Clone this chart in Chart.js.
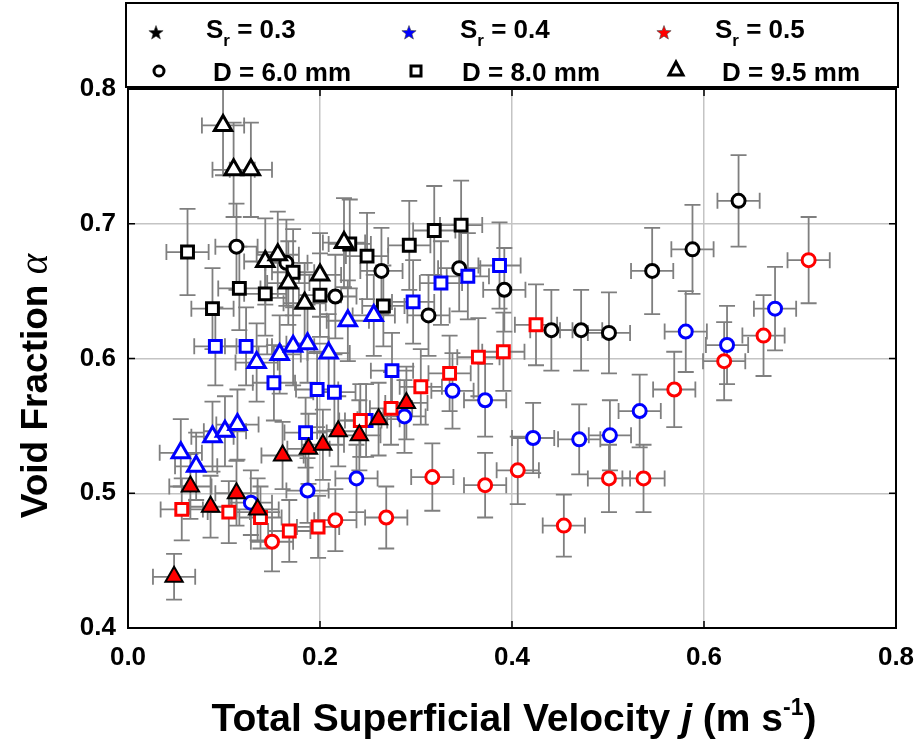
<!DOCTYPE html>
<html lang="en">
<head>
<meta charset="UTF-8">
<title>Void Fraction vs Total Superficial Velocity</title>
<script src="https://cdn.jsdelivr.net/npm/chart.js"></script>
<style>
  body { margin: 0; background: #ffffff; }
  .wrap { width: 918px; height: 747px; }
</style>
</head>
<body>
<div class="wrap"><canvas id="voidChart" width="918" height="747"></canvas></div>
<script>
// each point: [j (m/s), void fraction, error in void fraction]
const sr03_d60 = [[0.113,0.683,0.032],[0.165,0.671,0.032],[0.216,0.646,0.031],[0.264,0.665,0.032],[0.313,0.632,0.030],[0.345,0.667,0.032],[0.392,0.651,0.031],[0.441,0.621,0.030],[0.472,0.621,0.030],[0.501,0.619,0.030],[0.546,0.665,0.032],[0.588,0.681,0.033],[0.636,0.717,0.034]];
const sr03_d80 = [[0.062,0.679,0.032],[0.088,0.637,0.030],[0.116,0.652,0.031],[0.143,0.648,0.031],[0.172,0.664,0.032],[0.200,0.647,0.031],[0.231,0.685,0.033],[0.249,0.676,0.032],[0.266,0.639,0.030],[0.293,0.684,0.033],[0.319,0.695,0.033],[0.347,0.699,0.033]];
const sr03_d95 = [[0.099,0.773,0.037],[0.110,0.740,0.035],[0.128,0.740,0.035],[0.143,0.672,0.032],[0.156,0.677,0.032],[0.167,0.656,0.031],[0.184,0.641,0.030],[0.200,0.662,0.031],[0.225,0.686,0.033]];
const sr04_d60 = [[0.128,0.493,0.024],[0.187,0.502,0.024],[0.238,0.511,0.025],[0.288,0.557,0.027],[0.338,0.576,0.028],[0.372,0.569,0.027],[0.422,0.541,0.026],[0.470,0.540,0.026],[0.502,0.543,0.026],[0.533,0.561,0.027],[0.581,0.620,0.030],[0.624,0.610,0.029],[0.674,0.637,0.031]];
const sr04_d80 = [[0.091,0.609,0.029],[0.123,0.609,0.029],[0.152,0.582,0.028],[0.197,0.577,0.028],[0.215,0.575,0.028],[0.185,0.545,0.026],[0.248,0.554,0.027],[0.275,0.591,0.028],[0.297,0.642,0.031],[0.326,0.656,0.031],[0.354,0.661,0.032],[0.387,0.669,0.032]];
const sr04_d95 = [[0.055,0.530,0.025],[0.071,0.520,0.025],[0.088,0.542,0.026],[0.101,0.546,0.026],[0.114,0.551,0.026],[0.134,0.597,0.029],[0.158,0.603,0.029],[0.172,0.609,0.029],[0.187,0.611,0.029],[0.209,0.604,0.029],[0.229,0.628,0.030],[0.256,0.632,0.030]];
const sr05_d60 = [[0.150,0.464,0.022],[0.216,0.480,0.023],[0.269,0.482,0.023],[0.317,0.512,0.025],[0.372,0.506,0.024],[0.406,0.517,0.025],[0.454,0.476,0.023],[0.501,0.511,0.025],[0.537,0.511,0.025],[0.569,0.577,0.028],[0.621,0.598,0.029],[0.662,0.617,0.030],[0.709,0.673,0.032]];
const sr05_d80 = [[0.056,0.488,0.023],[0.105,0.486,0.023],[0.138,0.482,0.023],[0.168,0.472,0.023],[0.198,0.475,0.023],[0.242,0.554,0.027],[0.274,0.563,0.027],[0.305,0.579,0.028],[0.335,0.589,0.028],[0.365,0.601,0.029],[0.391,0.605,0.029],[0.425,0.625,0.030]];
const sr05_d95 = [[0.048,0.438,0.017],[0.065,0.505,0.024],[0.086,0.490,0.023],[0.113,0.500,0.024],[0.135,0.488,0.023],[0.161,0.528,0.025],[0.188,0.533,0.026],[0.203,0.536,0.026],[0.219,0.546,0.026],[0.241,0.543,0.026],[0.261,0.555,0.027],[0.290,0.567,0.027]];

const J_ERR = 0.022; // horizontal error, m/s

const srValues = ['0.3', '0.4', '0.5'];
const diameters = ['6.0', '8.0', '9.5'];
const xTicks = [0.0, 0.2, 0.4, 0.6, 0.8];
const yTicks = [0.4, 0.5, 0.6, 0.7, 0.8];

const srColors = ['#000000', '#0000ff', '#ff0000'];
const shapes = ['circle', 'rect', 'triangle'];
const radii = { circle: 6.5, rect: 8.4, triangle: 10 };
const FONT = "'Liberation Sans', Arial, sans-serif";

// chart.js paints dataset 0 on top, so red goes first
const groups = [
    [2, 2, sr05_d95], [2, 1, sr05_d80], [2, 0, sr05_d60],
    [1, 2, sr04_d95], [1, 1, sr04_d80], [1, 0, sr04_d60],
    [0, 2, sr03_d95], [0, 1, sr03_d80], [0, 0, sr03_d60]
];

const datasets = groups.map(([s, d, pts]) => {
    const shape = shapes[d];
    const filledTri = s === 2 && shape === 'triangle';
    return {
        label: 'Sr = ' + srValues[s] + ', D = ' + diameters[d] + ' mm',
        data: pts.map(p => ({ x: p[0], y: p[1], e: p[2] })),
        pointStyle: shape,
        pointRadius: radii[shape],
        pointHoverRadius: radii[shape],
        pointBorderWidth: filledTri ? 2 : 3,
        pointBorderColor: filledTri ? '#000000' : srColors[s],
        pointBackgroundColor: filledTri ? '#ff0000' : '#ffffff',
        showLine: false
    };
});

const errorBars = {
    id: 'errorBars',
    beforeDatasetsDraw(chart) {
        const { ctx, chartArea: a, scales: { x, y } } = chart;
        const cap = 8;
        ctx.save();
        ctx.beginPath();
        ctx.rect(a.left, a.top, a.right - a.left, a.bottom - a.top);
        ctx.clip();
        ctx.strokeStyle = '#7f7f7f';
        ctx.lineWidth = 1.8;
        chart.data.datasets.forEach(ds => {
            ds.data.forEach(p => {
                const cx = x.getPixelForValue(p.x), cy = y.getPixelForValue(p.y);
                const x0 = x.getPixelForValue(p.x - J_ERR), x1 = x.getPixelForValue(p.x + J_ERR);
                const y0 = y.getPixelForValue(p.y - p.e), y1 = y.getPixelForValue(p.y + p.e);
                ctx.beginPath();
                ctx.moveTo(x0, cy); ctx.lineTo(x1, cy);
                ctx.moveTo(x0, cy - cap); ctx.lineTo(x0, cy + cap);
                ctx.moveTo(x1, cy - cap); ctx.lineTo(x1, cy + cap);
                ctx.moveTo(cx, y0); ctx.lineTo(cx, y1);
                ctx.moveTo(cx - cap, y0); ctx.lineTo(cx + cap, y0);
                ctx.moveTo(cx - cap, y1); ctx.lineTo(cx + cap, y1);
                ctx.stroke();
            });
        });
        ctx.restore();
    }
};

function drawStar(ctx, cx, cy, r, color) {
    ctx.beginPath();
    for (let i = 0; i < 10; i++) {
        const rr = i % 2 === 0 ? r : r * 0.42;
        const ang = -Math.PI / 2 + i * Math.PI / 5;
        ctx.lineTo(cx + rr * Math.cos(ang), cy + rr * Math.sin(ang));
    }
    ctx.closePath();
    ctx.fillStyle = color;
    ctx.fill();
    ctx.strokeStyle = '#444';
    ctx.lineWidth = 0.6;
    ctx.stroke();
}

// draws a run of text pieces: [text, font, yShift]
function drawRuns(ctx, runs, x, y) {
    runs.forEach(([t, f, dy]) => {
        ctx.font = f;
        ctx.fillText(t, x, y + (dy || 0));
        x += ctx.measureText(t).width;
    });
}
function runsWidth(ctx, runs) {
    return runs.reduce((w, [t, f]) => { ctx.font = f; return w + ctx.measureText(t).width; }, 0);
}

const decorations = {
    id: 'decorations',
    afterDraw(chart) {
        const { ctx, chartArea: a, scales: { x, y } } = chart;
        ctx.save();

        // frame + inward ticks
        ctx.strokeStyle = '#000';
        ctx.lineWidth = 2;
        ctx.strokeRect(a.left, a.top, a.right - a.left, a.bottom - a.top);
        ctx.lineWidth = 1.5;
        ctx.beginPath();
        xTicks.forEach(v => {
            const px = x.getPixelForValue(v);
            ctx.moveTo(px, a.bottom); ctx.lineTo(px, a.bottom - 7);
            ctx.moveTo(px, a.top); ctx.lineTo(px, a.top + 7);
        });
        yTicks.forEach(v => {
            const py = y.getPixelForValue(v);
            ctx.moveTo(a.left, py); ctx.lineTo(a.left + 7, py);
            ctx.moveTo(a.right, py); ctx.lineTo(a.right - 7, py);
        });
        ctx.stroke();

        // legend box
        ctx.lineWidth = 2;
        ctx.strokeRect(126, 3, 772, 84);
        ctx.fillStyle = '#000';
        ctx.textBaseline = 'alphabetic';
        ctx.textAlign = 'left';
        ctx.wordSpacing = '6px';
        const big = 'bold 26px ' + FONT, small = 'bold 17px ' + FONT;
        const starX = [156, 409, 664], srTextX = [206, 460, 715];
        srValues.forEach((v, i) => {
            drawStar(ctx, starX[i], 33, 7.5, srColors[i]);
            ctx.fillStyle = '#000';
            drawRuns(ctx, [['S', big], ['r', small, 8], [' = ' + v, big]], srTextX[i], 38);
        });
        const markX = [159, 416, 676], dTextX = [213, 462, 722];
        diameters.forEach((v, i) => {
            ctx.strokeStyle = '#000';
            ctx.lineWidth = 3;
            ctx.beginPath();
            if (i === 0) ctx.arc(markX[i], 71, 5, 0, Math.PI * 2);
            else if (i === 1) ctx.rect(markX[i] - 5, 66, 10, 10);
            else { ctx.moveTo(markX[i], 62); ctx.lineTo(markX[i] + 7, 75); ctx.lineTo(markX[i] - 7, 75); ctx.closePath(); }
            ctx.stroke();
            drawRuns(ctx, [['D = ' + v + ' mm', big]], dTextX[i], 81);
        });
        ctx.wordSpacing = '0px';

        // x axis title
        const tFont = 'bold 39px ' + FONT;
        const xRuns = [['Total Superficial Velocity ', tFont], ['j', 'bold italic 39px ' + FONT],
            [' (m s', tFont], ['-1', 'bold 23px ' + FONT, -16], [')', tFont]];
        const xw = runsWidth(ctx, xRuns);
        drawRuns(ctx, xRuns, 514 - xw / 2, 731);

        // y axis title
        const yFont = 'bold 37px ' + FONT;
        const yRuns = [['Void Fraction ', yFont], ['\u03B1', 'italic 39px "Liberation Serif", serif']];
        const yw = runsWidth(ctx, yRuns);
        ctx.translate(47, 386);
        ctx.rotate(-Math.PI / 2);
        drawRuns(ctx, yRuns, -yw / 2, 0);
        ctx.restore();
    }
};

new Chart(document.getElementById('voidChart'), {
    type: 'scatter',
    data: { datasets },
    options: {
        responsive: false,
        animation: false,
        layout: { padding: { top: 89, right: 22, left: 0, bottom: 0 } },
        plugins: { legend: { display: false }, tooltip: { enabled: false } },
        scales: {
            x: {
                type: 'linear', min: 0, max: 0.8,
                afterBuildTicks: s => { s.ticks = xTicks.map(v => ({ value: v })); },
                afterFit: s => { s.height = 119; s.paddingLeft = 0; s.paddingRight = 0; },
                grid: { color: '#c4c4c4', lineWidth: 1.5, drawTicks: false },
                border: { display: false },
                ticks: { padding: 14, color: '#000', font: { family: FONT, size: 26, weight: 'bold' },
                         maxRotation: 0, callback: v => v.toFixed(1) }
            },
            y: {
                type: 'linear', min: 0.4, max: 0.8,
                afterBuildTicks: s => { s.ticks = yTicks.map(v => ({ value: v })); },
                afterFit: s => { s.width = 128; s.paddingTop = 0; s.paddingBottom = 0; },
                grid: { color: '#c4c4c4', lineWidth: 1.5, drawTicks: false },
                border: { display: false },
                ticks: { padding: 12, color: '#000', font: { family: FONT, size: 26, weight: 'bold' },
                         callback: v => v.toFixed(1) }
            }
        }
    },
    plugins: [errorBars, decorations]
});
</script>
</body>
</html>
